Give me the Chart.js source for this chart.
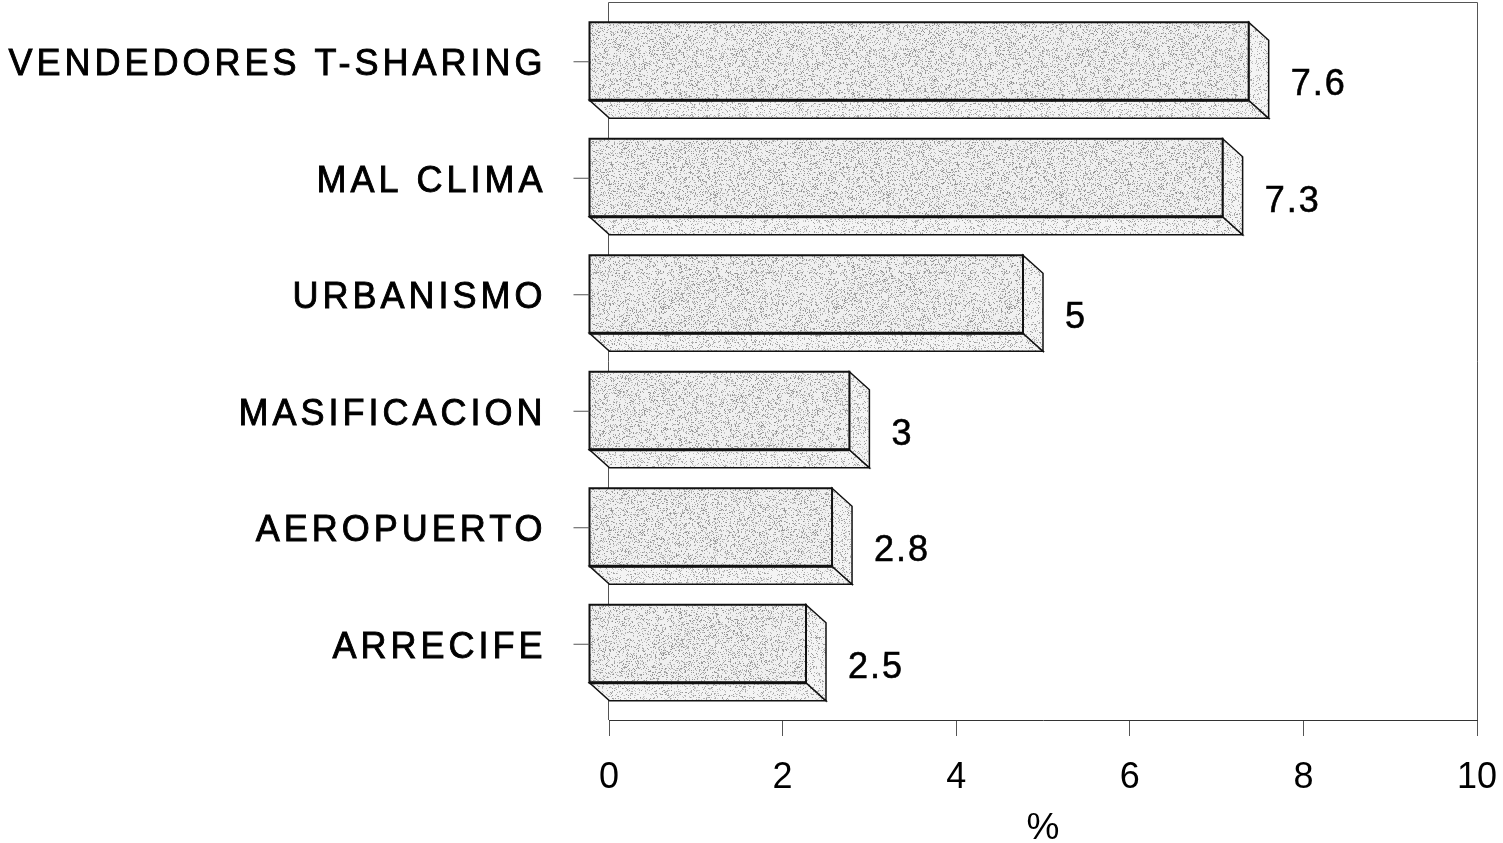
<!DOCTYPE html>
<html>
<head>
<meta charset="utf-8">
<title>Motivos de insatisfacción</title>
<script src="https://cdn.jsdelivr.net/npm/chart.js@4/dist/chart.umd.min.js"></script>
<style>
  html, body { margin: 0; padding: 0; background: #ffffff; }
  #wrap { width: 1503px; height: 843px; }
</style>
</head>
<body>
<div id="wrap"><canvas id="chart" width="1503" height="843"></canvas></div>
<script>
// Data
const categories = ['VENDEDORES T-SHARING', 'MAL CLIMA', 'URBANISMO', 'MASIFICACION', 'AEROPUERTO', 'ARRECIFE'];
const percentages = [7.6, 7.3, 5, 3, 2.8, 2.5];
const xTickValues = [0, 2, 4, 6, 8, 10];
const axisTitle = '%';

// Styling
const FONT = '"Liberation Sans", Arial, Helvetica, sans-serif';
const DEPTH_X = 20;   // extrusion of the boxes (right)
const DEPTH_Y = 18;   // extrusion of the boxes (down)
const INK = '#111111';
const FRAME = '#555555';

// Stippled grey fill built from a deterministic hash
function stipple(size, base, dark, density, seed) {
  const c = document.createElement('canvas');
  c.width = c.height = size;
  const g = c.getContext('2d');
  const img = g.createImageData(size, size);
  for (let i = 0; i < size * size; i++) {
    let h = Math.imul((i + 1) ^ seed, 2654435761) >>> 0;
    h ^= h >>> 15; h = Math.imul(h, 2246822519) >>> 0;
    h ^= h >>> 13; h = Math.imul(h, 3266489917) >>> 0;
    h ^= h >>> 16;
    const r = (h & 0xffff) / 65536;
    const v = r < density ? dark + ((h >>> 16) & 63) : base;
    img.data[i * 4] = v; img.data[i * 4 + 1] = v; img.data[i * 4 + 2] = v; img.data[i * 4 + 3] = 255;
  }
  g.putImageData(img, 0, 0);
  return g.createPattern(c, 'repeat');
}

const ctx0 = document.getElementById('chart').getContext('2d');
const frontFill = stipple(173, 240, 140, 0.24, 0x5a17);
const sideFill = stipple(151, 244, 150, 0.2, 0x3c91);

function poly(ctx, pts, fill, lw) {
  ctx.beginPath();
  ctx.moveTo(pts[0][0], pts[0][1]);
  for (let k = 1; k < pts.length; k++) ctx.lineTo(pts[k][0], pts[k][1]);
  ctx.closePath();
  ctx.fillStyle = fill;
  ctx.fill();
  ctx.lineWidth = lw;
  ctx.strokeStyle = INK;
  ctx.stroke();
}

function boldText(ctx, text, x, y, w) {
  ctx.fillText(text, x, y);
  ctx.lineWidth = w;
  ctx.strokeStyle = '#000';
  ctx.strokeText(text, x, y);
}

// Back wall of the plot, three-dimensional boxes, category and value labels
const boxes3d = {
  id: 'boxes3d',
  beforeDatasetsDraw(chart) {
    const { ctx, chartArea: a } = chart;
    ctx.save();
    ctx.strokeStyle = FRAME;
    ctx.lineWidth = 1;
    ctx.beginPath();
    ctx.moveTo(a.left - 0.5, a.bottom);
    ctx.lineTo(a.left - 0.5, a.top - DEPTH_Y - 0.5);
    ctx.lineTo(a.right + 0.5, a.top - DEPTH_Y - 0.5);
    ctx.lineTo(a.right + 0.5, a.bottom);
    ctx.stroke();
    ctx.restore();
  },
  afterDatasetsDraw(chart) {
    const { ctx } = chart;
    const meta = chart.getDatasetMeta(0);
    const yScale = chart.scales.y;
    ctx.save();
    ctx.lineJoin = 'miter';
    meta.data.forEach((bar, i) => {
      const p = bar.getProps(['x', 'y', 'base', 'height'], true);
      const x0 = p.base, x1 = p.x;
      const y0 = p.y - p.height / 2, y1 = p.y + p.height / 2;
      const fx0 = x0 - DEPTH_X, fx1 = x1 - DEPTH_X;
      const fy0 = y0 - DEPTH_Y, fy1 = y1 - DEPTH_Y;
      // bottom face
      poly(ctx, [[fx0, fy1], [fx1, fy1], [x1, y1], [x0, y1]], sideFill, 1.5);
      // side face
      poly(ctx, [[fx1, fy0], [x1, y0], [x1, y1], [fx1, fy1]], sideFill, 1.5);
      // front face
      poly(ctx, [[fx0, fy0], [fx1, fy0], [fx1, fy1], [fx0, fy1]], frontFill, 2);
      ctx.beginPath();
      ctx.moveTo(fx0, fy1); ctx.lineTo(fx1, fy1);
      ctx.lineWidth = 3; ctx.strokeStyle = INK; ctx.stroke();

      // value label
      ctx.font = '36px ' + FONT;
      ctx.letterSpacing = '2px';
      ctx.fillStyle = '#000';
      ctx.textAlign = 'left';
      ctx.textBaseline = 'middle';
      boldText(ctx, String(percentages[i]), x1 + 22, p.y + 6, 0.6);

      // category tick and label, aligned with the front face
      const cy = yScale.getPixelForValue(i) - DEPTH_Y;
      ctx.beginPath();
      ctx.moveTo(fx0 - 16, cy + 0.5); ctx.lineTo(fx0, cy + 0.5);
      ctx.lineWidth = 1; ctx.strokeStyle = FRAME; ctx.stroke();
      ctx.font = '36px ' + FONT;
      ctx.letterSpacing = '4px';
      ctx.textAlign = 'right';
      ctx.fillStyle = '#000';
      boldText(ctx, categories[i], fx0 - 43, cy + 4, 0.9);
    });
    ctx.restore();
  }
};

new Chart(ctx0, {
  type: 'bar',
  data: {
    labels: categories,
    datasets: [{
      data: percentages,
      backgroundColor: 'rgba(0,0,0,0)',
      borderWidth: 0,
      barPercentage: 0.67,
      categoryPercentage: 1
    }]
  },
  options: {
    indexAxis: 'y',
    responsive: false,
    devicePixelRatio: 1,
    animation: false,
    layout: { padding: { left: 609, right: 26, top: 21, bottom: 0 } },
    plugins: { legend: { display: false }, tooltip: { enabled: false } },
    scales: {
      y: { display: false, offset: true },
      x: {
        type: 'linear',
        min: 0,
        max: 10,
        afterBuildTicks(scale) { scale.ticks = xTickValues.map(v => ({ value: v })); },
        afterFit(scale) {
          scale.height = 123;
          scale.paddingLeft = 0;
          scale.paddingRight = 0;
        },
        ticks: {
          font: { family: FONT, size: 36 },
          color: '#000',
          padding: 20,
          maxRotation: 0,
          autoSkip: false
        },
        grid: {
          display: true,
          drawOnChartArea: false,
          drawTicks: true,
          tickLength: 16,
          color: FRAME,
          lineWidth: 1
        },
        border: { display: true, color: '#333', width: 1 },
        title: {
          display: true,
          text: axisTitle,
          font: { family: FONT, size: 37, lineHeight: 0.75 },
          color: '#000',
          padding: { top: 0, bottom: 0 }
        }
      }
    }
  },
  plugins: [boxes3d]
});
</script>
</body>
</html>
